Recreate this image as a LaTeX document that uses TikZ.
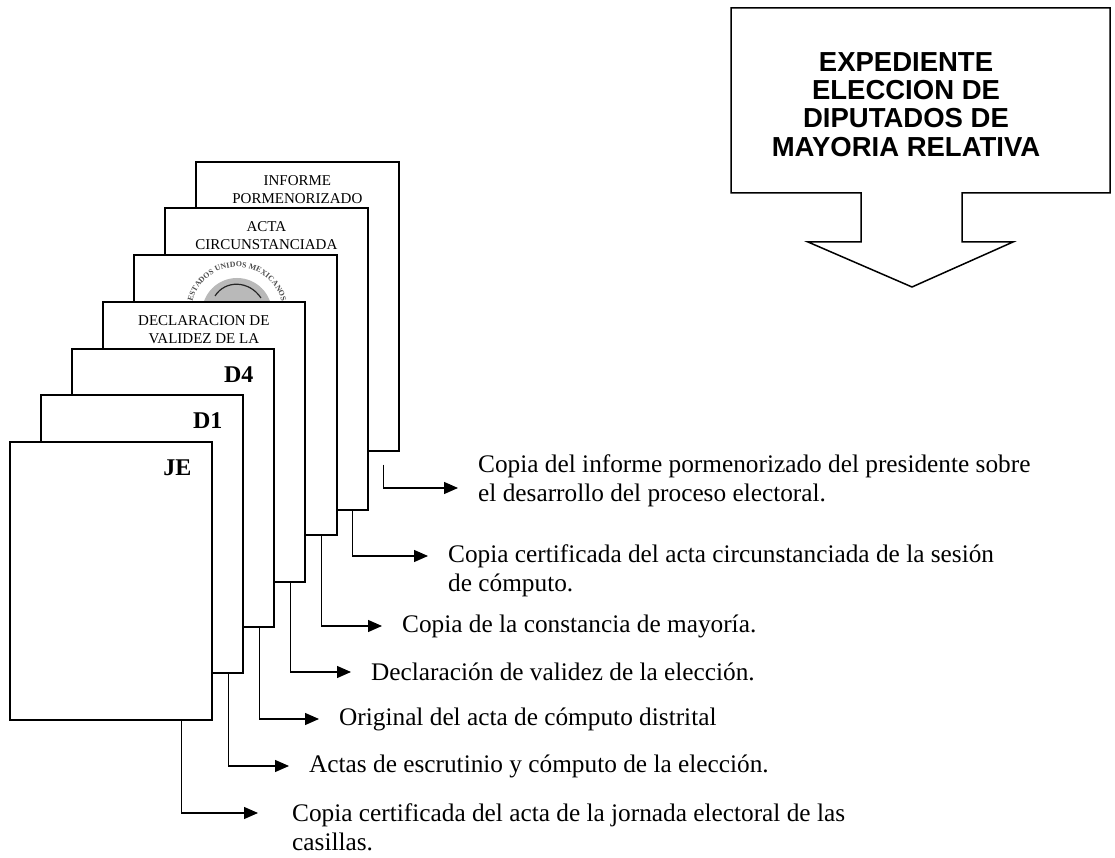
\documentclass[tikz,border=0pt]{standalone}
\usepackage{fontspec}
\setmainfont{Liberation Serif}
\newfontfamily\arialfont{Liberation Sans}
\usetikzlibrary{arrows.meta,calc,decorations.text}
\tikzset{
	page/.style={draw, line width=1.7pt, fill=white, anchor=north west, minimum width=203pt, inner sep=0pt},
	pagelabel/.style={align=center, inner sep=0pt, anchor=north, font=\fontsize{15}{18}\selectfont},
	tag/.style={inner sep=0pt, anchor=base east, font=\fontsize{24}{28}\selectfont\bfseries},
	desc/.style={align=left, inner sep=0pt, anchor=west, font=\fontsize{25.3}{29}\selectfont},
	conn/.style={line width=1.3pt, -{Triangle[length=14pt,width=12pt]}, shorten >=20pt},
	title/.style={align=center, inner sep=0pt, font=\arialfont\fontsize{27.5}{28.3}\selectfont\bfseries}
}
\begin{document}
\begin{tikzpicture}[x=1pt, y=1pt]
			\useasboundingbox (0,0) rectangle (1115,858);
			\node[page, minimum height=289pt] (pInf) at (195,697) {};
			\node[pagelabel] (lInf) at ($(pInf.north)+(0,-14)$) {INFORME\\PORMENORIZADO};
			\node[page, minimum height=302pt] (pCir) at (164,651) {};
			\node[pagelabel] (lCir) at ($(pCir.north)+(0,-14)$) {ACTA\\CIRCUNSTANCIADA};
			\node[page, minimum height=280pt] (pCon) at (133,604) {};
			\coordinate (sello) at (237,545);
			\fill[gray!55] (sello) circle (35pt);
			\draw[gray!30!black, line width=1.2pt] ($(sello)+(-22,17)$) .. controls ($(sello)+(-12,33)$) and ($(sello)+(12,33)$) .. ($(sello)+(24,15)$);
			\path[decorate, decoration={text along path, text={|\fontsize{7.8}{9}\selectfont\bfseries|ESTADOS UNIDOS MEXICANOS}, text align=fit to path, text color=gray!60!black}] ([shift={(166:46pt)}]sello) arc[start angle=166, end angle=14, radius=46pt];
			\node[page, minimum width=202pt, minimum height=280pt] (pDec) at (102,557) {};
			\node[pagelabel] (lDec) at ($(pDec.north)+(0,-14)$) {DECLARACION DE\\VALIDEZ DE LA};
			\node[page, minimum width=202pt, minimum height=278pt] (pD4) at (71,510) {};
			\node[tag] (tD4) at ($(pD4.north east)+(-21,-35)$) {D4};
			\node[page, minimum width=202pt, minimum height=278pt] (pD1) at (40,464) {};
			\node[tag] (tD1) at ($(pD1.north east)+(-21,-35)$) {D1};
			\node[page, minimum width=202pt, minimum height=278pt] (pJE) at (9,417) {};
			\node[tag] (tJE) at ($(pJE.north east)+(-21,-35)$) {JE};

			\coordinate (sInf) at ($(pInf.south east)+(-16,-13)$);
			\coordinate (sCir) at ($(pCir.south east)+(-16,0)$);
			\coordinate (sCon) at ($(pCon.south east)+(-16,0)$);
			\coordinate (sDec) at ($(pDec.south east)+(-15,0)$);
			\coordinate (sOri) at ($(pD4.south east)+(-15,0)$);
			\coordinate (sAct) at ($(pD1.south east)+(-15,0)$);
			\coordinate (sJor) at ($(pJE.south east)+(-31,0)$);

			\node[desc] (tInf) at (478,377.5) {Copia del informe pormenorizado del presidente sobre\\el desarrollo del proceso electoral.};
			\node[desc] (tCir) at (448,287.5) {Copia certificada del acta circunstanciada de la sesión\\de cómputo.};
			\node[desc] (tCon) at (402,232) {Copia de la constancia de mayoría.};
			\node[desc] (tDec) at (371,186) {Declaración de validez de la elección.};
			\node[desc] (tOri) at (339,139) {Original del acta de cómputo distrital};
			\node[desc] (tAct) at (309,92) {Actas de escrutinio y cómputo de la elección.};
			\node[desc] (tJor) at (292,30.5) {Copia certificada del acta de la jornada electoral de las\\casillas.};

			\draw[conn] (sInf) |- ([yshift=-7.5pt]tInf.west);
			\draw[conn] (sCir) |- ([yshift=14.5pt]tCir.west);
			\draw[conn] (sCon) |- (tCon.west);
			\draw[conn] (sDec) |- (tDec.west);
			\draw[conn] (sOri) |- (tOri.west);
			\draw[conn] (sAct) |- (tAct.west);
			\draw[conn, shorten >=34pt] (sJor) |- ([yshift=14.5pt]tJor.west);

			\draw[line width=1.5pt, fill=white] (731,850) -- (1110,850) -- (1110,665) -- (962,665) -- (962,616) -- (1013,616) -- (912,571) -- (808,616) -- (861,616) -- (861,665) -- (731,665) -- cycle;
			\node[title] (titulo) at (906,753.5) {EXPEDIENTE\\ELECCION DE\\DIPUTADOS DE\\MAYORIA RELATIVA};
\end{tikzpicture}
\end{document}
